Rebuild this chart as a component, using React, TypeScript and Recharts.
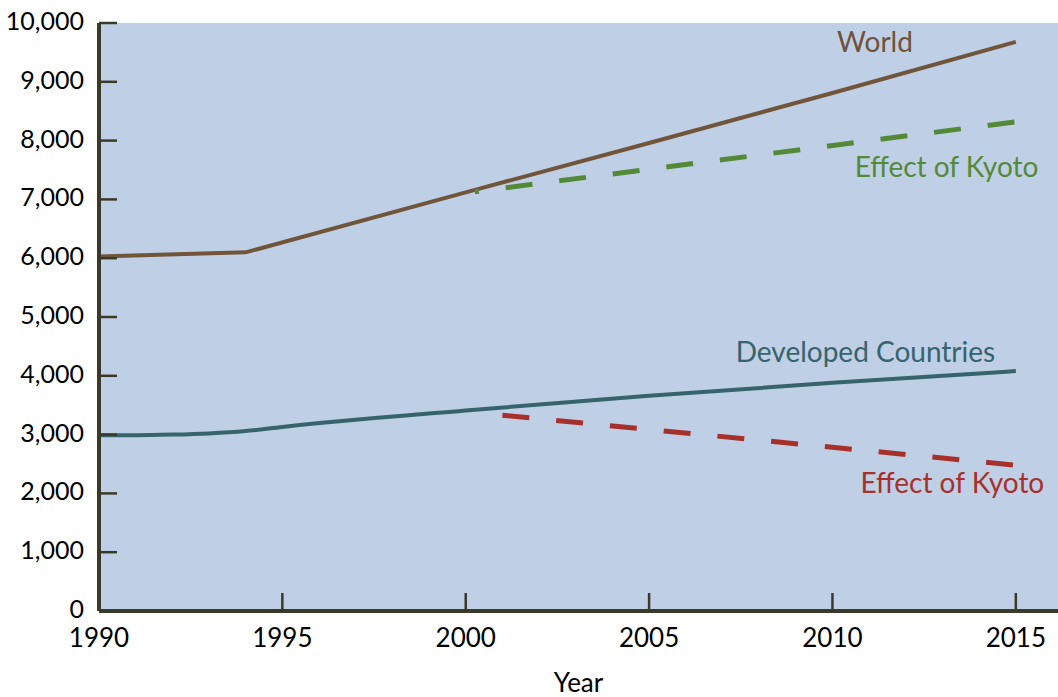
import React from "react";
import {
  LineChart,
  Line,
  XAxis,
  YAxis,
  CartesianGrid,
  ReferenceDot,
  Label,
} from "recharts";

const FONT = "Lato, 'Open Sans', sans-serif";
const AXIS_COLOR = "#3B3A29";

const X_TICKS = [1990, 1995, 2000, 2005, 2010, 2015];
const Y_TICKS = [0, 1000, 2000, 3000, 4000, 5000, 6000, 7000, 8000, 9000, 10000];

const WORLD_YEARS = [1990, 1994, 2000, 2005, 2010, 2015];
const WORLD_VALUES = [6030, 6100, 7120, 7960, 8810, 9680];

const DEVELOPED_YEARS = [1990, 1991, 1992, 1993, 1994, 1995, 2000, 2005, 2010, 2015];
const DEVELOPED_VALUES = [2990, 2990, 3000, 3020, 3060, 3130, 3410, 3660, 3880, 4080];

const WORLD_KYOTO_YEARS = [2000.25, 2015];
const WORLD_KYOTO_VALUES = [7130, 8320];

const DEV_KYOTO_YEARS = [2001, 2015];
const DEV_KYOTO_VALUES = [3330, 2480];

const LABELS = [
  { text: "World", year: 2011.16, value: 9668, color: "#6E5239" },
  { text: "Effect of Kyoto", year: 2013.11, value: 7551, color: "#548A37" },
  { text: "Developed Countries", year: 2010.9, value: 4396, color: "#36646C" },
  { text: "Effect of Kyoto", year: 2013.27, value: 2168, color: "#A8302B" },
];

const toRows = (years: number[], values: number[]) =>
  years.map((year, i) => ({ year, value: values[i] }));

function YTick(props: any) {
  const { x, y, payload } = props;
  const axisX = x + 15;
  return (
    <g>
      <line x1={axisX} x2={axisX + 18} y1={y} y2={y} stroke={AXIS_COLOR} strokeWidth={2.5} />
      <text x={x} y={y + 7} textAnchor="end" fill="#000" fontSize={25} fontFamily={FONT}>
        {payload.value.toLocaleString("en-US")}
      </text>
    </g>
  );
}

function XTick(props: any) {
  const { x, y, payload } = props;
  const axisY = y - 10;
  return (
    <g>
      {payload.value !== 1990 && (
        <line x1={x} x2={x} y1={axisY} y2={axisY - 18} stroke={AXIS_COLOR} strokeWidth={2.5} />
      )}
      <text x={x} y={axisY + 36} textAnchor="middle" fill="#000" fontSize={26} fontFamily={FONT}>
        {payload.value}
      </text>
    </g>
  );
}

export default function App() {
  return (
    <div style={{ position: "absolute", left: 0, top: 0, background: "#fff" }}>
      <LineChart
        width={1058}
        height={697}
        margin={{ top: 23, right: 0, left: 0, bottom: 0 }}
      >
        <CartesianGrid horizontal={false} vertical={false} fill="#BFCFE6" />
        <XAxis
          dataKey="year"
          type="number"
          domain={[1990, 2016.15]}
          ticks={X_TICKS}
          allowDataOverflow
          height={86}
          tickSize={0}
          tickMargin={10}
          tickLine={false}
          axisLine={{ stroke: AXIS_COLOR, strokeWidth: 4 }}
          tick={<XTick />}
        >
          <Label
            content={(p: any) => (
              <text
                x={p.viewBox.x + p.viewBox.width / 2}
                y={p.viewBox.y + 81}
                textAnchor="middle"
                fontSize={26}
                fontFamily={FONT}
                fill="#000"
              >
                Year
              </text>
            )}
          />
        </XAxis>
        <YAxis
          type="number"
          domain={[0, 10000]}
          ticks={Y_TICKS}
          width={99}
          tickSize={0}
          tickMargin={15}
          tickLine={false}
          axisLine={{ stroke: AXIS_COLOR, strokeWidth: 4 }}
          tick={<YTick />}
        />

        <Line
          data={toRows(WORLD_YEARS, WORLD_VALUES)}
          dataKey="value"
          type="linear"
          stroke="#70553A"
          strokeWidth={4}
          dot={false}
          activeDot={false}
          isAnimationActive={false}
        />
        <Line
          data={toRows(DEVELOPED_YEARS, DEVELOPED_VALUES)}
          dataKey="value"
          type="monotone"
          stroke="#36646C"
          strokeWidth={4}
          dot={false}
          activeDot={false}
          isAnimationActive={false}
        />
        <Line
          data={toRows(WORLD_KYOTO_YEARS, WORLD_KYOTO_VALUES)}
          dataKey="value"
          type="linear"
          stroke="#548A37"
          strokeWidth={5}
          strokeDasharray="27 27"
          strokeDashoffset={23}
          dot={false}
          activeDot={false}
          isAnimationActive={false}
        />
        <Line
          data={toRows(DEV_KYOTO_YEARS, DEV_KYOTO_VALUES)}
          dataKey="value"
          type="linear"
          stroke="#A8302B"
          strokeWidth={5}
          strokeDasharray="27 27"
          dot={false}
          activeDot={false}
          isAnimationActive={false}
        />

        {LABELS.map((l, i) => (
          <ReferenceDot
            key={i}
            x={l.year}
            y={l.value}
            r={0}
            ifOverflow="visible"
            stroke="none"
            fill="none"
            label={{
              value: l.text,
              position: "center",
              fill: l.color,
              fontSize: 28,
              fontFamily: FONT,
            }}
          />
        ))}
      </LineChart>
    </div>
  );
}
